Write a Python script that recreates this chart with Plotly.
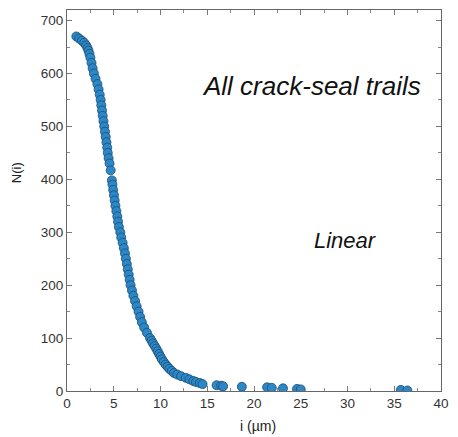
import plotly.graph_objects as go

# Cumulative count N(i) versus spacing i (µm)
N_values = [670, 666, 662, 658, 653, 648, 643, 637, 630, 620, 610, 600, 590, 580,
            570, 560, 550, 540, 530, 520, 510, 500, 490, 480, 470, 460, 450, 440,
            430, 417, 398, 390, 380, 370, 360, 350, 340, 330, 320, 310, 300, 290,
            280, 270, 260, 250, 240, 230, 220, 210, 200, 190, 180, 170, 160, 150,
            140, 130, 120, 110, 100, 95, 90, 85, 80, 75, 70, 65, 60, 55, 50, 46,
            42, 38, 34, 31, 28, 25, 22, 19, 17, 15, 13, 11, 10, 9, 8, 7, 6, 5, 4,
            3, 2, 1]
i_values = [1.0, 1.3, 1.6, 1.85, 2.05, 2.2, 2.3, 2.4, 2.5, 2.62, 2.74, 2.88, 3.05, 3.25,
            3.38, 3.5, 3.6, 3.67, 3.75, 3.82, 3.9, 3.98, 4.06, 4.14, 4.22, 4.3, 4.36, 4.45,
            4.55, 4.67, 4.8, 4.86, 4.94, 5.02, 5.1, 5.18, 5.28, 5.38, 5.46, 5.55, 5.7, 5.8,
            5.95, 6.08, 6.2, 6.3, 6.4, 6.5, 6.6, 6.7, 6.8, 6.95, 7.1, 7.28, 7.45, 7.65,
            7.82, 8.0, 8.25, 8.55, 8.88, 9.05, 9.2, 9.38, 9.55, 9.7, 9.85, 10.0, 10.15, 10.35,
            10.55, 10.75, 10.95, 11.2, 11.45, 11.8, 12.2, 12.7, 13.1, 13.5, 13.8, 14.2, 14.5,
            16.0, 16.5, 16.7, 18.7, 21.4, 21.9, 23.1, 24.6, 25.0, 35.7, 36.4]

x_ticks = [0, 5, 10, 15, 20, 25, 30, 35, 40]
y_ticks = [0, 100, 200, 300, 400, 500, 600, 700]

FONT = "Liberation Sans, Arial, sans-serif"

fig = go.Figure()
fig.add_trace(go.Scatter(
    x=i_values, y=N_values, mode="markers",
    marker=dict(size=9, color="#2b87c6", line=dict(color="#1d4d75", width=0.8)),
    showlegend=False,
))

axis_common = dict(
    showline=True, linecolor="#666666", linewidth=1, mirror="ticks",
    ticks="inside", ticklen=5, tickcolor="#777777", tickwidth=1,
    showgrid=False, zeroline=False, ticklabeloverflow="allow",
    tickfont=dict(family=FONT, size=13.5, color="#333333"),
)

fig.update_xaxes(range=[0, 40], tickvals=x_ticks, ticktext=[str(v) for v in x_ticks],
                 minor=dict(ticks="inside", dtick=2.5, ticklen=3, tickcolor="#888888"),
                 **axis_common)
fig.update_yaxes(range=[0, 720], tickvals=y_ticks, ticktext=[str(v) for v in y_ticks],
                 minor=dict(ticks="inside", dtick=50, ticklen=3, tickcolor="#888888"),
                 **axis_common)

fig.add_annotation(x=26.2, y=577, xref="x", yref="y", text="<i>All crack-seal trails</i>",
                   showarrow=False, xanchor="center", yanchor="middle",
                   font=dict(family=FONT, size=26, color="#111111"))
fig.add_annotation(x=29.75, y=285, xref="x", yref="y", text="<i>Linear</i>",
                   showarrow=False, xanchor="center", yanchor="middle",
                   font=dict(family=FONT, size=22, color="#111111"))
fig.add_annotation(x=-0.135, y=0.573, xref="paper", yref="paper", text="N(i)",
                   showarrow=False, textangle=-90, xanchor="center", yanchor="middle",
                   font=dict(family=FONT, size=13, color="#222222"))
fig.add_annotation(x=0.511, y=-0.092, xref="paper", yref="paper", text="i (µm)",
                   showarrow=False, xanchor="center", yanchor="middle",
                   font=dict(family=FONT, size=14, color="#222222"))

fig.update_layout(
    width=458, height=437,
    margin=dict(l=67, r=11, t=9, b=46),
    plot_bgcolor="white", paper_bgcolor="white",
)

fig.write_html("out.html", config={"displayModeBar": False},
               post_script="document.body.style.margin='0';")
